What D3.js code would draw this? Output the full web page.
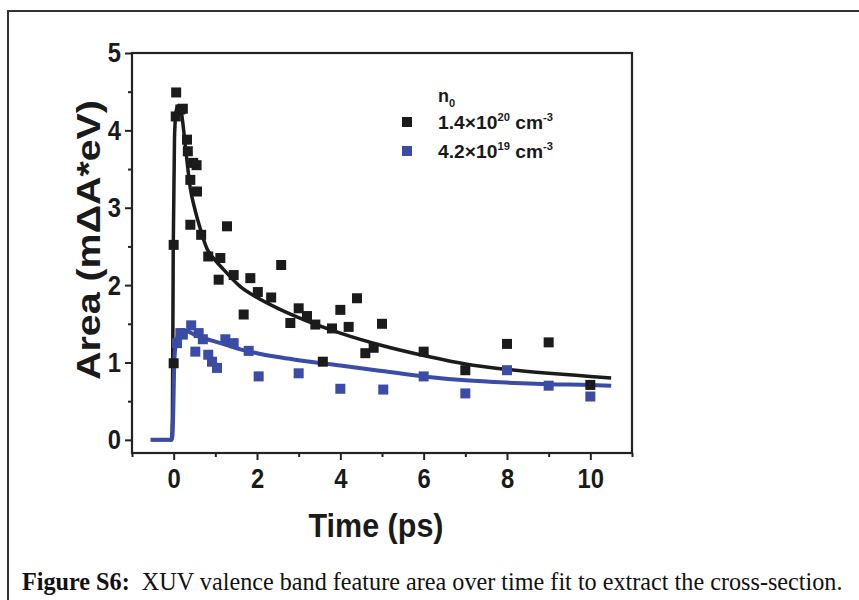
<!DOCTYPE html>
<html>
<head>
<meta charset="utf-8">
<script src="https://cdn.jsdelivr.net/npm/d3@7"></script>
<style>
  body { margin: 0; background: #fff; }
  svg { display: block; }
  .ax text { font-family: "Liberation Sans", Arial, sans-serif; font-weight: bold; }
</style>
</head>
<body>
<svg width="859" height="600"></svg>
<script>
// measured points, 1.4e20 cm^-3
var blackT = [0.06, 0.05, 0.16, 0.22, 0.32, 0.34, 0.47, 0.55, 0.56, 0.40, 0.66, 1.28, 0.83, 1.12, 1.08, 1.44,
              1.84, 2.02, 2.34, 2.58, 1.68, 3.0, 3.2, 2.8, 3.4, 3.8, 4.0, 4.2, 4.4, 4.6, 4.8, 3.58,
              0.0, 0.0, 5.0, 6.0, 7.0, 8.0, 9.0, 10.0, 0.40];
var blackA = [4.49, 4.18, 4.27, 4.28, 3.88, 3.73, 3.58, 3.55, 3.21, 2.78, 2.65, 2.76, 2.37, 2.35, 2.07, 2.13,
              2.09, 1.91, 1.84, 2.26, 1.62, 1.70, 1.60, 1.51, 1.49, 1.44, 1.68, 1.46, 1.83, 1.12, 1.19, 1.01,
              0.99, 2.52, 1.50, 1.14, 0.90, 1.24, 1.26, 0.71, 3.36];
// measured points, 4.2e19 cm^-3
var blueT = [0.08, 0.16, 0.22, 0.42, 0.60, 0.70, 0.52, 0.83, 0.92, 1.04, 1.24, 1.44, 1.80, 2.04,
             3.0, 4.0, 5.03, 6.0, 7.0, 8.0, 9.0, 10.0];
var blueA = [1.25, 1.38, 1.36, 1.48, 1.38, 1.30, 1.14, 1.10, 1.01, 0.93, 1.30, 1.25, 1.15, 0.82,
             0.86, 0.66, 0.65, 0.82, 0.60, 0.90, 0.70, 0.56];

// fit curves
var fitBlackT = [-0.55, -0.05, -0.03, -0.01, 0.02, 0.06, 0.12, 0.18, 0.25, 0.3, 0.4, 0.5, 0.6, 0.8, 1.0, 1.2, 1.6,
                 2.0, 2.5, 3.0, 4.0, 5.0, 6.0, 7.0, 8.0, 9.0, 10.0, 10.5];
var fitBlackA = [0, 0, 0.3, 2.5, 3.9, 4.25, 4.32, 4.25, 3.95, 3.7, 3.25, 3.0, 2.8, 2.47, 2.32, 2.2, 1.98,
                 1.84, 1.70, 1.58, 1.38, 1.22, 1.09, 0.98, 0.91, 0.86, 0.82, 0.80];
var fitBlueT = [-0.55, -0.05, -0.03, -0.01, 0.01, 0.04, 0.1, 0.2, 0.3, 0.5, 0.8, 1.0, 1.3, 1.6, 2.0, 2.5,
                3.0, 4.0, 5.0, 6.0, 7.0, 8.0, 9.0, 10.0, 10.5];
var fitBlueA = [0, 0, 0.05, 0.35, 0.9, 1.2, 1.35, 1.42, 1.41, 1.36, 1.30, 1.27, 1.22, 1.17, 1.12, 1.07,
                1.03, 0.96, 0.89, 0.82, 0.77, 0.74, 0.72, 0.71, 0.70];

var xTicks = [0, 2, 4, 6, 8, 10];
var xMinor = [-1, 1, 3, 5, 7, 9, 11];
var yTicks = [0, 1, 2, 3, 4, 5];
var yMinor = [0.5, 1.5, 2.5, 3.5, 4.5];

var svg = d3.select("svg");
var black = "#1b1b1b", blue = "#3a4ca6";
var narrow = 0.85;   // original uses a condensed face

// outer figure frame
svg.append("path")
    .attr("d", "M8,600V11H859")
    .attr("fill", "none")
    .attr("stroke", "#333")
    .attr("stroke-width", 2);

var x = d3.scaleLinear().domain([-1, 11]).range([132, 632]);
var y = d3.scaleLinear().domain([-0.17, 5]).range([453, 53]);

var g = svg.append("g").attr("class", "ax");

// axes
g.append("g").attr("transform", "translate(0,453)")
    .call(d3.axisBottom(x).tickValues(xTicks).tickSize(7).tickPadding(8).tickFormat(d3.format("d")))
    .selectAll("text").attr("transform", "scale(" + narrow + ",1)");
g.append("g").attr("transform", "translate(0,453)")
    .call(d3.axisBottom(x).tickValues(xMinor).tickSize(4).tickFormat(""));
g.append("g").attr("transform", "translate(132,0)")
    .call(d3.axisLeft(y).tickValues(yTicks).tickSize(7).tickPadding(6).tickFormat(d3.format("d")))
    .selectAll("text").attr("transform", "scale(" + narrow + ",1)");
g.append("g").attr("transform", "translate(132,0)")
    .call(d3.axisLeft(y).tickValues(yMinor).tickSize(4).tickFormat(""));

g.selectAll(".domain").remove();
g.selectAll(".tick line").attr("stroke", "#222").attr("stroke-width", 2);
g.selectAll(".tick text").attr("fill", "#1a1a1a").style("font-size", "28px");

// plot frame
g.append("rect")
    .attr("x", x(-1)).attr("y", y(5))
    .attr("width", x(11) - x(-1)).attr("height", y(-0.17) - y(5))
    .attr("fill", "none").attr("stroke", "#222").attr("stroke-width", 2.2);

// fits
var line = d3.line().x(d => x(d[0])).y(d => y(d[1])).curve(d3.curveMonotoneX);
g.append("path")
    .datum(d3.zip(fitBlackT, fitBlackA))
    .attr("d", line).attr("fill", "none").attr("stroke", black).attr("stroke-width", 3.5);
g.append("path")
    .datum(d3.zip(fitBlueT, fitBlueA))
    .attr("d", line).attr("fill", "none").attr("stroke", blue).attr("stroke-width", 4);

// markers
var s = 10;
g.append("g").selectAll("rect")
    .data(d3.zip(blackT, blackA))
    .enter().append("rect")
    .attr("x", d => x(d[0]) - s/2).attr("y", d => y(d[1]) - s/2)
    .attr("width", s).attr("height", s)
    .attr("fill", black);
g.append("g").selectAll("rect")
    .data(d3.zip(blueT, blueA))
    .enter().append("rect")
    .attr("x", d => x(d[0]) - s/2).attr("y", d => y(d[1]) - s/2)
    .attr("width", s).attr("height", s)
    .attr("fill", blue);

// axis titles
g.append("text")
    .attr("transform", "translate(100,240) rotate(-90)")
    .attr("text-anchor", "middle")
    .attr("fill", "#1a1a1a")
    .attr("textLength", 280).attr("lengthAdjust", "spacingAndGlyphs")
    .style("font-size", "34px")
    .text("Area (m\u0394A*eV)");
g.append("text")
    .attr("x", 376).attr("y", 537)
    .attr("text-anchor", "middle")
    .attr("fill", "#1a1a1a")
    .attr("textLength", 135).attr("lengthAdjust", "spacingAndGlyphs")
    .style("font-size", "34px")
    .text("Time (ps)");

// legend
var leg = g.append("g");
var n0 = leg.append("text").attr("x", 438).attr("y", 102).style("font-size", "18px").attr("fill", "#1a1a1a");
n0.append("tspan").text("n");
n0.append("tspan").attr("dy", 5).style("font-size", "11px").text("0");

var legItems = [["1.4\u00d710", "20", black], ["4.2\u00d710", "19", blue]];
legItems.forEach(function(it, i) {
    var yy = 122 + i * 29;
    leg.append("rect").attr("x", 402).attr("y", yy - 5).attr("width", s).attr("height", s).attr("fill", it[2]);
    var t = leg.append("text").attr("x", 438).attr("y", yy + 7).style("font-size", "19px").attr("fill", "#1a1a1a")
        .attr("textLength", 115).attr("lengthAdjust", "spacingAndGlyphs");
    t.append("tspan").text(it[0]);
    t.append("tspan").attr("dy", -8).style("font-size", "11px").text(it[1]);
    t.append("tspan").attr("dy", 8).text(" cm");
    t.append("tspan").attr("dy", -8).style("font-size", "11px").text("-3");
});

// caption
var cap = svg.append("text")
    .attr("x", 22).attr("y", 590)
    .style("font-family", "'Liberation Serif', 'Times New Roman', serif")
    .style("font-size", "24.2px")
    .attr("fill", "#111");
cap.append("tspan").style("font-weight", "bold").text("Figure S6:");
cap.append("tspan").text("\u00a0 XUV valence band feature area over time fit to extract the cross-section.");
</script>
</body>
</html>
